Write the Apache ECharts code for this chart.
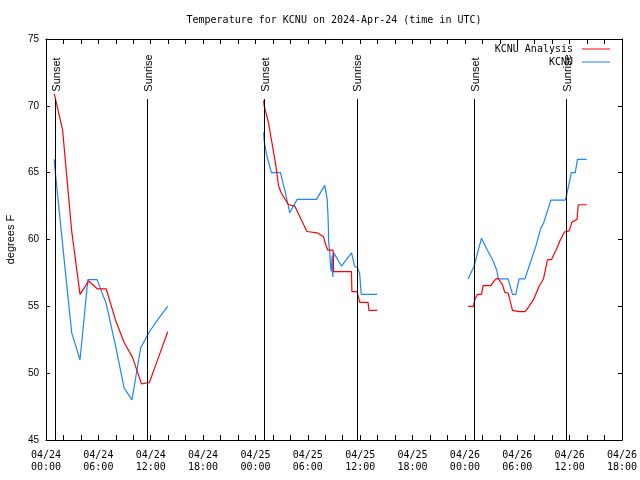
<!DOCTYPE html>
<html><head><meta charset="utf-8">
<script src="https://cdn.jsdelivr.net/npm/echarts@6/dist/echarts.min.js"></script>
<style>html,body{margin:0;padding:0;background:#fff}#c{width:640px;height:480px}</style>
</head><body><div id="c"></div>
<script>
// Hours since 2024-04-24 00:00 UTC; null separates the three night segments
const xTickLabels = ['04/24\n00:00','04/24\n06:00','04/24\n12:00','04/24\n18:00',
  '04/25\n00:00','04/25\n06:00','04/25\n12:00','04/25\n18:00',
  '04/26\n00:00','04/26\n06:00','04/26\n12:00','04/26\n18:00'];

const analysisHours = [0.95,1.9,2.95,3.9,4.9,5.9,6.9,7.95,8.95,9.9,10.95,11.85,12.9,13.95, null,
  24.94,25.0,25.5,25.9,26.3,26.65,26.95,27.4,27.8,28.5,29.35,29.9,31.05,31.8,32.0,32.3,32.9,32.95,35.0,35.05,35.65,35.95,36.9,37.0,37.95, null,
  48.36,48.98,49.13,49.44,49.9,50.08,50.97,51.35,51.66,51.9,52.31,52.57,52.95,53.26,53.45,54.2,54.9,55.36,55.93,56.5,57.0,57.47,57.93,58.43,58.92,59.38,59.95,60.26,60.84,60.99,61.98];
const analysisTemps = [70.9,68.2,60.6,55.9,56.9,56.3,56.3,54.0,52.3,51.2,49.2,49.3,51.2,53.1, null,
  70.4,70.0,68.7,67.2,65.7,64.0,63.5,63.0,62.6,62.5,61.35,60.6,60.5,60.2,59.7,59.2,59.2,57.6,57.6,56.1,56.1,55.3,55.3,54.7,54.7, null,
  55.0,55.0,55.5,55.9,55.9,56.55,56.55,56.9,57.1,57.0,56.6,56.05,56.0,55.2,54.7,54.6,54.6,55.0,55.6,56.5,57.05,58.5,58.5,59.2,59.95,60.55,60.65,61.3,61.5,62.6,62.6];

const obsHours = [0.95,0.98,2.0,2.95,3.9,4.8,5.85,6.9,7.95,8.95,9.85,10.85,11.85,12.9,13.95, null,
  24.94,25.0,25.33,25.83,26.86,27.05,27.43,27.93,28.78,30.99,31.94,32.22,32.33,32.4,32.52,32.6,32.68,32.79,32.86,32.98,33.86,35.01,35.35,35.66,35.93,36.12,37.96, null,
  48.36,49.05,49.9,50.58,51.16,51.65,51.85,52.95,53.45,53.83,54.21,54.87,55.36,56.13,56.7,57.0,57.85,59.5,59.7,60.2,60.64,60.9,61.95];
const obsTemps = [66.0,65.6,59.0,53.0,51.0,57.0,57.0,55.2,52.1,48.9,48.0,51.9,53.1,54.1,55.0, null,
  68.0,67.35,66.2,65.0,65.0,64.5,63.5,62.0,63.0,63.0,64.05,63.0,61.5,59.7,59.0,58.0,57.6,58.8,57.2,59.0,58.0,59.0,58.0,57.9,57.5,55.9,55.9, null,
  57.05,58.0,60.1,59.2,58.5,57.7,57.05,57.05,55.9,55.9,57.05,57.05,58.0,59.5,60.85,61.2,62.95,62.95,63.45,65.0,65.0,66.0,66.0];

const sunHours = [1.07, 11.63, 25.06, 35.62, 49.05, 59.61];
const sunLabels = ['Sunset','Sunrise','Sunset','Sunrise','Sunset','Sunrise'];
const sunLineTop = 70.5;
const yMin = 45, yMax = 75;

function toData(hs, ts) {
  return hs.map((h, i) => h == null ? ['-', '-'] : [h, ts[i]]);
}

const mono = '"DejaVu Sans Mono", "Liberation Mono", monospace';
const sans = '"Liberation Sans", Arial, sans-serif';

const chart = echarts.init(document.getElementById('c'), null, {renderer: 'canvas'});

const legendCommon = {
  orient: 'horizontal', align: 'right', icon: 'rect', itemWidth: 28, itemHeight: 1,
  padding: 0, selectedMode: false,
  textStyle: {fontFamily: mono, fontSize: 10, color: '#000', lineHeight: 12, padding: [0, 4, 0, 0]}
};

const option = {
  animation: false,
  backgroundColor: '#fff',
  title: {
    text: 'Temperature for KCNU on 2024-Apr-24 (time in UTC)',
    left: 334, top: 14, textAlign: 'center', padding: 0,
    textStyle: {fontFamily: mono, fontSize: 10, fontWeight: 'normal', color: '#000', lineHeight: 12}
  },
  legend: [
    Object.assign({}, legendCommon, {data: ['KCNU Analysis'], right: 30, top: 43}),
    Object.assign({}, legendCommon, {data: ['KCNU'], right: 30, top: 56})
  ],
  grid: {left: 46, right: 18, top: 39, bottom: 40, containLabel: false, outerBoundsMode: 'none'},
  xAxis: [{
    type: 'value', min: 0, max: 66, interval: 2, position: 'bottom',
    axisLine: {show: true, onZero: false, lineStyle: {color: '#000', width: 1}},
    axisTick: {show: true, inside: true, length: 5, lineStyle: {color: '#000'}},
    axisLabel: {
      formatter: v => (v % 6 === 0 ? xTickLabels[v / 6] : ''),
      fontFamily: mono, fontSize: 10, color: '#000', lineHeight: 12, margin: 9,
      hideOverlap: false, showMinLabel: true, showMaxLabel: true
    },
    splitLine: {show: false}
  }, {
    type: 'value', min: 0, max: 66, interval: 2, position: 'top',
    axisLine: {show: true, onZero: false, lineStyle: {color: '#000', width: 1}},
    axisTick: {show: true, inside: true, length: 5, lineStyle: {color: '#000'}},
    axisLabel: {show: false}, splitLine: {show: false}
  }],
  yAxis: [{
    type: 'value', min: yMin, max: yMax, interval: 5, position: 'left',
    axisLine: {show: true, onZero: false, lineStyle: {color: '#000', width: 1}},
    axisTick: {show: true, inside: true, length: 4, lineStyle: {color: '#000'}},
    axisLabel: {fontFamily: sans, fontSize: 10, color: '#000', margin: 7},
    splitLine: {show: false},
    name: 'degrees F', nameLocation: 'middle', nameGap: 30, nameRotate: 90,
    nameTextStyle: {fontFamily: sans, fontSize: 11, color: '#000'}
  }, {
    type: 'value', min: yMin, max: yMax, interval: 5, position: 'right',
    axisLine: {show: true, onZero: false, lineStyle: {color: '#000', width: 1}},
    axisTick: {show: true, inside: true, length: 4, lineStyle: {color: '#000'}},
    axisLabel: {show: false}, splitLine: {show: false}
  }],
  series: [{
    name: 'KCNU Analysis', type: 'line', color: '#ff0000', showSymbol: false, symbol: 'none',
    connectNulls: false, lineStyle: {width: 1.2, color: '#ff0000'},
    data: toData(analysisHours, analysisTemps), z: 3,
    markLine: {
      silent: true, symbol: ['none', 'none'], animation: false,
      label: {show: false},
      lineStyle: {color: '#000', width: 1, type: 'solid'},
      emphasis: {disabled: true},
      data: sunHours.map(h => [{coord: [h, yMin]}, {coord: [h, sunLineTop]}])
    }
  }, {
    name: 'KCNU', type: 'line', color: '#1a86ff', showSymbol: false, symbol: 'none',
    connectNulls: false, lineStyle: {width: 1.2, color: '#1a86ff'},
    data: toData(obsHours, obsTemps), z: 2
  }]
};
chart.setOption(option);

const g = sunHours.map((h, i) => {
  const p = chart.convertToPixel({xAxisIndex: 0, yAxisIndex: 0}, [h, sunLineTop]);
  return {
    type: 'text', x: p[0] + 1.6, y: p[1] - 7.5, rotation: Math.PI / 2, silent: true, z: 10,
    style: {text: sunLabels[i], font: '11px ' + sans, fill: '#000', textAlign: 'left', textVerticalAlign: 'middle'}
  };
});
chart.setOption({graphic: g});
</script>
</body></html>
